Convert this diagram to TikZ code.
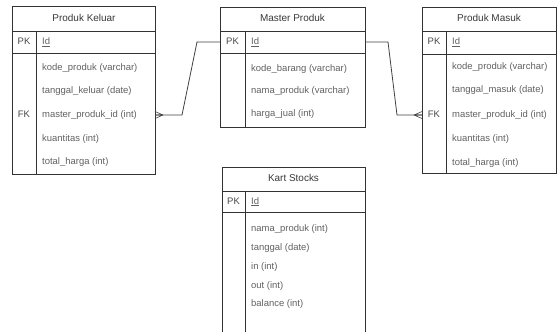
\documentclass[tikz,border=0pt]{standalone}
\usepackage{fontspec}
\setmainfont{Liberation Sans}
\begin{document}
\begin{tikzpicture}[x=1bp,y=-1bp,
  tbl/.style={draw=black!80, line width=0.8bp, rectangle, inner sep=0pt, outer sep=0pt, anchor=north west},
  sep/.style={draw=black!80, line width=0.8bp},
  fld/.style={anchor=west, inner sep=0pt, text height=7bp, text depth=2bp, font=\fontsize{9.5}{10}\selectfont, text=black!62},
  ttl/.style={anchor=center, inner sep=0pt, text height=7bp, text depth=2bp, font=\fontsize{10}{11}\selectfont, text=black!78},
  keyc/.style={anchor=center, inner sep=0pt, text height=7bp, text depth=2bp, font=\fontsize{9.5}{10}\selectfont, text=black!72},
  rel/.style={draw=black!75, line width=0.8bp}]
\path[use as bounding box, clip] (0,0) rectangle (558,331);

% ---------- Produk Keluar ----------
\node[tbl, minimum width=143bp, minimum height=168bp] (keluar) at (12,6) {};
\draw[sep] (12,31) -- (155,31) (12,53) -- (155,53) (36,31) -- (36,174);
\node[ttl] (keluar-t) at (84,19) {Produk Keluar};
\node[keyc] (keluar-pk) at (24,42) {PK};
\node[fld] (keluar-id) at (42,42) {\underline{Id}};
\node[fld] (keluar-f1) at (42,68) {kode\_produk (varchar)};
\node[fld] (keluar-f2) at (42,91) {tanggal\_keluar (date)};
\node[keyc] (keluar-fk) at (24,115) {FK};
\node[fld] (keluar-f3) at (42,115) {master\_produk\_id (int)};
\node[fld] (keluar-f4) at (42,139) {kuantitas (int)};
\node[fld] (keluar-f5) at (42,162) {total\_harga (int)};

% ---------- Master Produk ----------
\node[tbl, minimum width=145bp, minimum height=120bp] (master) at (220,7) {};
\draw[sep] (220,31) -- (365,31) (220,53) -- (365,53) (245,31) -- (245,127);
\node[ttl] (master-t) at (292.5,19) {Master Produk};
\node[keyc] (master-pk) at (232.5,42) {PK};
\node[fld] (master-id) at (251,42) {\underline{Id}};
\node[fld] (master-f1) at (251,69) {kode\_barang (varchar)};
\node[fld] (master-f2) at (251,91) {nama\_produk (varchar)};
\node[fld] (master-f3) at (251,114) {harga\_jual (int)};

% ---------- Produk Masuk ----------
\node[tbl, minimum width=134bp, minimum height=166bp] (masuk) at (422,7) {};
\draw[sep] (422,31) -- (556,31) (422,54) -- (556,54) (446,31) -- (446,173);
\node[ttl] (masuk-t) at (489,19) {Produk Masuk};
\node[keyc] (masuk-pk) at (434,42) {PK};
\node[fld] (masuk-id) at (452,42) {\underline{Id}};
\node[fld] (masuk-f1) at (452,67) {kode\_produk (varchar)};
\node[fld] (masuk-f2) at (452,90) {tanggal\_masuk (date)};
\node[keyc] (masuk-fk) at (434,115) {FK};
\node[fld] (masuk-f3) at (452,115) {master\_produk\_id (int)};
\node[fld] (masuk-f4) at (452,139) {kuantitas (int)};
\node[fld] (masuk-f5) at (452,163) {total\_harga (int)};

% ---------- Kart Stocks (runs past the lower edge) ----------
\node[tbl, minimum width=143bp, minimum height=180bp] (kart) at (222,167) {};
\draw[sep] (222,191) -- (365,191) (222,212) -- (365,212) (245,191) -- (245,347);
\node[ttl] (kart-t) at (293.5,179) {Kart Stocks};
\node[keyc] (kart-pk) at (233.5,201.5) {PK};
\node[fld] (kart-id) at (251,201.5) {\underline{Id}};
\node[fld] (kart-f1) at (251,229) {nama\_produk (int)};
\node[fld] (kart-f2) at (251,248) {tanggal (date)};
\node[fld] (kart-f3) at (251,267) {in (int)};
\node[fld] (kart-f4) at (251,286) {out (int)};
\node[fld] (kart-f5) at (251,304) {balance (int)};

% ---------- Relations ----------
\coordinate (kp) at (keluar.east |- keluar-f3);
\coordinate (mp) at (master.west |- master-id);
\coordinate (mq) at (master.east |- master-id);
\coordinate (sp) at (masuk.west |- masuk-f3);

\draw[rel] (kp) -- ++(27,0) -- (197,0 |- mp) -- (mp);
\draw[rel] (mq) -- (388,0 |- mq) -- (397,0 |- sp) -- (sp);

% crow's feet (many) at the foreign-key ends
\draw[rel, line width=0.6bp] ([xshift=8bp]kp) -- ([yshift=-3.5bp]kp)
  ([xshift=8bp]kp) -- (kp) ([xshift=8bp]kp) -- ([yshift=3.5bp]kp);
\draw[rel, line width=0.6bp] ([xshift=-8bp]sp) -- ([yshift=-3.5bp]sp)
  ([xshift=-8bp]sp) -- (sp) ([xshift=-8bp]sp) -- ([yshift=3.5bp]sp);
\end{tikzpicture}
\end{document}
